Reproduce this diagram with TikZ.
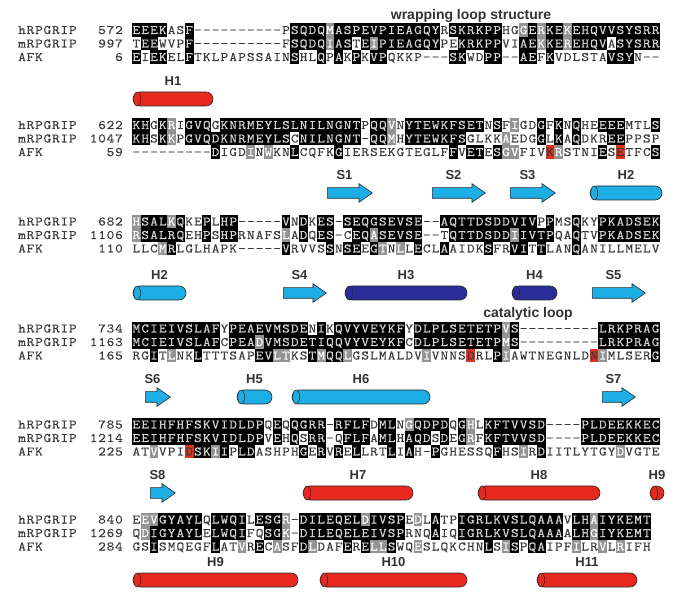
\documentclass[tikz,border=0pt]{standalone}
\usepackage{fontspec}
\setmainfont{Liberation Sans}
\newfontfamily\seqfont{Latin Modern Mono}[FakeStretch=1.15,FakeBold=0.3]
\newfontfamily\namefont{Latin Modern Mono}[FakeStretch=1.15,FakeBold=0.3,LetterSpace=5.8]
\usepackage{xcolor}
\usetikzlibrary{positioning, shapes.arrows}

\definecolor{seqtext}{HTML}{3A3A3A}
\definecolor{onblack}{HTML}{D4D4D4}
\definecolor{simgray}{HTML}{949494}
\definecolor{hotred}{HTML}{E0301E}
\definecolor{helixred}{HTML}{E8281E}
\definecolor{helixcyan}{HTML}{1EAEE6}
\definecolor{helixnavy}{HTML}{2A2C9A}
\definecolor{ssedge}{HTML}{2A2A2A}
\definecolor{labgray}{HTML}{333333}

\newcommand\resfont{\seqfont\fontsize{13}{13}\selectfont}
\newcommand\namesfont{\namefont\fontsize{13}{13}\selectfont}
\newcommand\labfont{\bfseries\fontsize{13}{13}\selectfont}
\newcommand\looplabfont{\bfseries\fontsize{14}{14}\selectfont}

% residue groups for grey (similar) shading
\newcommand\setgrp[2]{\expandafter\def\csname grp-#1\endcsname{#2}}
\newcommand\grp[1]{\csname grp-#1\endcsname}
\setgrp{I}{1}\setgrp{L}{1}\setgrp{V}{1}\setgrp{M}{1}
\setgrp{F}{2}\setgrp{Y}{2}\setgrp{W}{2}
\setgrp{K}{3}\setgrp{R}{3}\setgrp{H}{3}
\setgrp{D}{4}\setgrp{E}{4}
\setgrp{S}{5}\setgrp{T}{5}
\setgrp{N}{6}\setgrp{Q}{6}
\setgrp{A}{7}\setgrp{G}{7}
\setgrp{C}{0}\setgrp{P}{0}\setgrp{-}{0}

% hand-set shades (red = catalytic residues)
\newcommand\setov[4]{\foreach \c in {#3}{\expandafter\xdef\csname ov-#1-#2-\c\endcsname{#4}}}

\newcounter{rescol}
\def\shnone{none}
\def\rowpitch{13.5}
\def\cellnode#1#2#3{\node[#1] (#2) at (\cellx,\celly) {#3};}

% one residue: #1 row, #2 residue, #3 #4 the other two in the column
\newcommand\putres[4]{%
  \def\cellshade{none}%
  \ifx#2-\else
    \ifx#2#3\def\cellshade{blk}\fi
    \ifx#2#4\def\cellshade{blk}\fi
    \ifx\cellshade\shnone
      \ifnum\grp{#2}>0\relax
        \ifnum\grp{#2}=\grp{#3}\relax\def\cellshade{gry}\fi
        \ifnum\grp{#2}=\grp{#4}\relax\def\cellshade{gry}\fi
      \fi
    \fi
  \fi
  \ifcsname ov-\blkid-#1-\the\value{rescol}\endcsname
    \edef\cellshade{\csname ov-\blkid-#1-\the\value{rescol}\endcsname}%
  \fi
  \pgfmathsetmacro\cellx{132+8.8*(\the\value{rescol}-0.5)}%
  \pgfmathsetmacro\celly{\blky+\rowpitch*(#1-1)}%
  \edef\cellopts{cell \cellshade}%
  \edef\cellname{\blkid-#1-\the\value{rescol}}%
  \expandafter\cellnode\expandafter{\cellopts}{\cellname}{#2}}

\def\seqstep#1#2\relax#3#4\relax#5#6\relax{%
  \stepcounter{rescol}%
  \putres{1}{#1}{#3}{#5}\putres{2}{#3}{#1}{#5}\putres{3}{#5}{#1}{#3}%
  \ifx\relax#2\relax\else\seqstep#2\relax#4\relax#6\relax\fi}

% #1 block id, #2 y of first row, #3-#5 the aligned rows
\newcommand\seqblock[5]{%
  \def\blkid{#1}\def\blky{#2}\setcounter{rescol}{0}%
  \seqstep#3\relax#4\relax#5\relax}

\newcommand\rowlabels[5]{%
  \foreach \nm/\num [count=\r] in {hRPGRIP/#3, mRPGRIP/#4, AFK/#5}{
    \node[seqname] (#1-name\r) at (18,{#2+\rowpitch*(\r-1)}) {\nm};
    \node[seqnum] (#1-num\r) at (123,{#2+\rowpitch*(\r-1)}) {\num};
  }}

% #1 name, #2 x1, #3 x2, #4 y, #5 colour, #6 label
\newcommand\helixel[6]{%
  \node[helix, fill=#5, minimum width={#3-#2}] (#1) at ({(#2+#3)/2},#4) {};
  \draw[helix face, fill=#5] ([xshift=4.5pt]#1.west) ellipse [x radius=3.5pt, y radius=7pt];
  \node[sslab] (#1-lab) at ({(#2+#3)/2},{#4-18}) {#6};}

% #1 name, #2 x1, #3 x2, #4 y, #5 label
\newcommand\strandel[5]{%
  \node[strand, minimum height={#3-#2}, anchor=tail] (#1) at (#2,#4) {};
  \node[sslab] (#1-lab) at ({(#2+#3)/2-5},{#4-18}) {#5};}

\begin{document}
\begin{tikzpicture}[
    x=1pt, y=-1pt,
    cellbox/.style={rectangle, inner sep=0pt, outer sep=0pt,
        minimum width=8.9pt, minimum height=13.6pt,
        text height=8pt, text depth=0pt, font=\resfont},
    cell none/.style={cellbox, text=seqtext},
    cell blk/.style={cellbox, fill=black, text=onblack},
    cell gry/.style={cellbox, fill=simgray, text=white},
    cell red/.style={cellbox, fill=hotred, text=seqtext},
    seqname/.style={anchor=west, inner sep=0pt, text height=8pt, text depth=0pt,
        font=\namesfont, text=seqtext},
    seqnum/.style={anchor=east, inner sep=0pt, text height=8pt, text depth=0pt,
        font=\namesfont, text=seqtext},
    helix/.style={rectangle, rounded corners=7pt, minimum height=14pt,
        draw=ssedge, line width=0.6pt, inner sep=0pt},
    helix face/.style={draw=ssedge, line width=0.6pt},
    strand/.style={single arrow, draw=ssedge, fill=helixcyan, line width=0.6pt,
        inner xsep=0pt, inner ysep=5pt, text height=0pt, text depth=0pt,
        single arrow head extend=4pt, single arrow tip angle=70},
    sslab/.style={inner sep=0pt, font=\labfont, text=labgray},
    looplab/.style={inner sep=0pt, font=\looplabfont, text=labgray}
]
\fill[white] (0,0) rectangle (675,593);
\useasboundingbox (0,0) rectangle (675,593);

\setov{b2}{3}{48,56}{red}
\setov{b4}{3}{39,53}{red}
\setov{b5}{3}{7}{red}

% block 1
\node[looplab] (wrap) at (471,16) {wrapping loop structure};
\seqblock{b1}{30}
  {EEEKASF----------PSQDQMASPEVPIEAGQYRSKRKPPHGGERKEKEHQVVSYSRR}
  {TEEWVPF----------FSQDQIASTEIPIEAGQYPEKRKPPVIAEKKEREHQVASYSRR}
  {EIEKELFTKLPAPSSAINSHLQPAKPKVPQKKP---SKWDPP--AEFKVDLSTAVSYN--}
\rowlabels{b1}{30}{572}{997}{6}
\helixel{h1}{133}{213}{99}{helixred}{H1}

% block 2
\seqblock{b2}{125}
  {KHGKRIGVQGKNRMEYLSLNILNGNTPQQVNYTEWKFSETNSFIGDGFKNQHEEEEMTLS}
  {KHSKKPGVQDKNRMEYLSCNILNGNT-QQMHYTEWKFSGLKKAEDGGLKAQDKREEPPSP}
  {---------DIGDINWKNLCQFKGIERSEKGTEGLFFVETESGVFIVKRSTNIESETFCS}
\rowlabels{b2}{125}{622}{1047}{59}
\strandel{s1}{327}{372}{193}{S1}
\strandel{s2}{432}{485}{193}{S2}
\strandel{s3}{510}{555}{193}{S3}
\helixel{h2a}{590}{662}{193}{helixcyan}{H2}

% block 3
\seqblock{b3}{221.5}
  {HSALKQKEPLHP-----VNDKES-SEQGSEVSE--AQTTDSDDVIVPPMSQKYPKADSEK}
  {RSALRQEHPSHPRNAFSLADQES-CEQASEVSE--TQTTDSDDIIVTPQAQTVPKADSEK}
  {LLCMRLGLHAPK-----VRVVSSNSEEGTNLLECLAAIDKSFRVITTLANQANILLMELV}
\rowlabels{b3}{221.5}{682}{1106}{110}
\helixel{h2b}{133}{186}{293}{helixcyan}{H2}
\strandel{s4}{283}{326}{293}{S4}
\helixel{h3}{345}{467}{293}{helixnavy}{H3}
\helixel{h4}{512}{557}{293}{helixnavy}{H4}
\strandel{s5}{592}{645}{293}{S5}

% block 4
\node[looplab] (cat) at (528,314) {catalytic loop};
\seqblock{b4}{328.5}
  {MCIEIVSLAFYPEAEVMSDENIKQVYVEYKFYDLPLSETETPVS---------LRKPRAG}
  {MCIEIVSLAFCPEADVMSDETIQQVYVEYKFCDLPLSETETPMS---------LRKPRAG}
  {RGITLNKLTTTSAPEVLTKSTMQQLGSLMALDVIVNNSDRLPIAWTNEGNLDNIMLSERG}
\rowlabels{b4}{328.5}{734}{1163}{165}
\strandel{s6}{145}{170}{397}{S6}
\helixel{h5}{237}{272}{397}{helixcyan}{H5}
\helixel{h6}{292}{430}{397}{helixcyan}{H6}
\strandel{s7}{602}{635}{397}{S7}

% block 5
\seqblock{b5}{424.5}
  {EEIHFHFSKVIDLDPQEQQGRR-RFLFDMLNGQDPDQGHLKFTVVSD----PLDEEKKEC}
  {EEIHFHFSKVIDLDPVEHQSRR-QFLFAMLHAQDSDEGRFKFTVVSD----PLDEEKKEC}
  {ATVVPIDSKIIPLDASHPHGERVRELLRTLIAH-PGHESSQFHSIRDIITLYTGYDVGTE}
\rowlabels{b5}{424.5}{785}{1214}{225}
\strandel{s8}{150}{175}{493}{S8}
\helixel{h7}{303}{413}{493}{helixred}{H7}
\helixel{h8}{478}{600}{493}{helixred}{H8}
\helixel{h9a}{650}{664}{493}{helixred}{H9}

% block 6
\seqblock{b6}{519.5}
  {EEVGYAYLQLWQILESGR-DILEQELDIVSPEDLATPIGRLKVSLQAAAVLHAIYKEMT}
  {QDIGYAYLELWQIFQSGK-DILEQELEIVSPRNQAIQIGRLKVSLQAAAALHGIYKEMT}
  {GSISMQEGFLATVRECASFDLDAFERELLSWQESLQKCHNLSISPQAIPFILRVLRIFH}
\rowlabels{b6}{519.5}{840}{1269}{284}
\helixel{h9b}{133}{298}{580}{helixred}{H9}
\helixel{h10}{320}{467}{580}{helixred}{H10}
\helixel{h11}{537}{637}{580}{helixred}{H11}
\end{tikzpicture}
\end{document}
